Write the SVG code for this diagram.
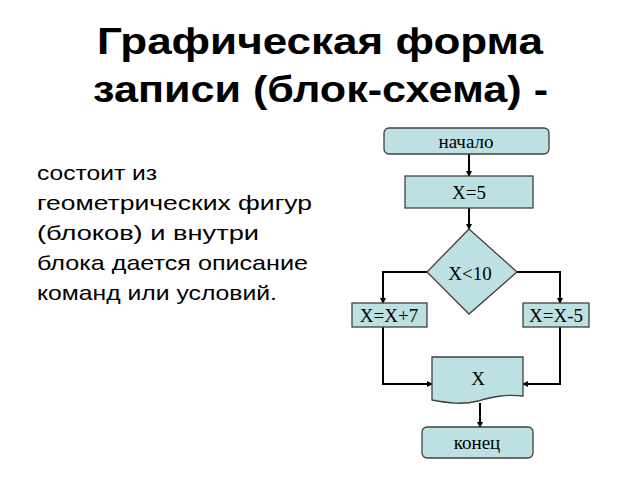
<svg xmlns="http://www.w3.org/2000/svg" width="640" height="480" viewBox="0 0 640 480">
<defs>
<style>
.b{fill:#bde0e3;stroke:#404040;stroke-width:1.3}
.t{font-family:"Liberation Serif",serif;font-size:19px;text-anchor:middle;fill:#000}
.c{fill:none;stroke:#000;stroke-width:2}
</style>
<marker id="a" markerWidth="6" markerHeight="6" refX="5" refY="3" orient="auto" markerUnits="userSpaceOnUse"><path d="M0,0L6,3L0,6z" fill="#000"/></marker>
</defs>
<rect width="640" height="480" fill="#fff"/>
<g font-family="Liberation Sans,Arial,sans-serif" font-weight="bold" font-size="37">
<text x="97" y="54" textLength="446" lengthAdjust="spacingAndGlyphs">Графическая форма</text>
<text x="93" y="102" textLength="455" lengthAdjust="spacingAndGlyphs">записи (блок-схема) -</text>
</g>
<g font-family="Liberation Sans,Arial,sans-serif" font-size="21">
<text x="37" y="180" textLength="120" lengthAdjust="spacingAndGlyphs">состоит из</text>
<text x="37" y="210" textLength="275" lengthAdjust="spacingAndGlyphs">геометрических фигур</text>
<text x="37" y="240" textLength="222" lengthAdjust="spacingAndGlyphs">(блоков) и внутри</text>
<text x="37" y="270" textLength="271" lengthAdjust="spacingAndGlyphs">блока дается описание</text>
<text x="37" y="300" textLength="240" lengthAdjust="spacingAndGlyphs">команд или условий.</text>
</g>
<g id="connectors">
<path class="c" d="M469,154V176" marker-end="url(#a)"/>
<path class="c" d="M469,208V229" marker-end="url(#a)"/>
<path class="c" d="M427,272H383V303" marker-end="url(#a)"/>
<path class="c" d="M517,272H560V303" marker-end="url(#a)"/>
<path class="c" d="M383,327V384H432" marker-end="url(#a)"/>
<path class="c" d="M560,327V384H523" marker-end="url(#a)"/>
<path class="c" d="M480,403V427" marker-end="url(#a)"/>
</g>
<g id="start"><rect class="b" x="384" y="128" width="165" height="26" rx="5"/><text class="t" x="466" y="148">начало</text></g>
<g id="assign"><rect class="b" x="405" y="176" width="128" height="32"/><text class="t" x="469" y="199">X=5</text></g>
<g id="cond"><path class="b" d="M469,229L517,272L469,314L427,272Z"/><text class="t" x="470" y="280">X&lt;10</text></g>
<g id="left"><rect class="b" x="352" y="303" width="75" height="24"/><text class="t" x="389" y="322">X=X+7</text></g>
<g id="right"><rect class="b" x="523" y="303" width="66" height="24"/><text class="t" x="556" y="322">X=X-5</text></g>
<g id="out"><path class="b" d="M432,357H523V396C505,394 492,397 478,401C462,405 448,403 432,400Z"/><text class="t" x="478" y="385">X</text></g>
<g id="end"><rect class="b" x="422" y="427" width="111" height="31" rx="5"/><text class="t" x="477" y="449">конец</text></g>
</svg>
